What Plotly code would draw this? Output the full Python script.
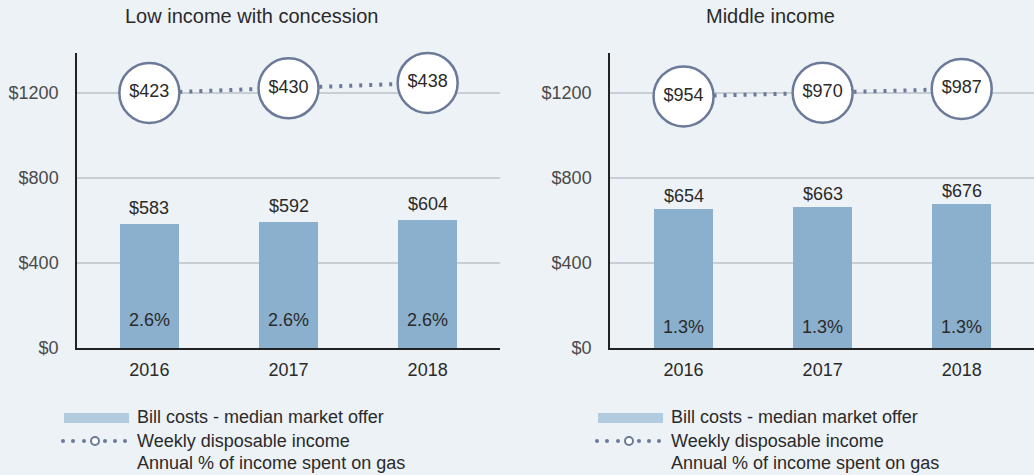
import plotly.graph_objects as go

years = ["2016", "2017", "2018"]
bill_low = [583, 592, 604]
bill_mid = [654, 663, 676]
income_low = [423, 430, 438]
income_mid = [954, 970, 987]
pct_low = ["2.6%", "2.6%", "2.6%"]
pct_mid = ["1.3%", "1.3%", "1.3%"]
titles = ["Low income with concession", "Middle income"]
y_ticks = [0, 400, 800, 1200]
y_tick_labels = ["$0", "$400", "$800", "$1200"]

W, H = 1034, 475
BG = "#EDF2F7"
BAR = "#8AB0CE"
LEG_BAR = "#B3CBDF"
SLATE = "#6B7A98"
TXT = "#2A2A2A"
FONT = "Liberation Sans"
FS = 18


def px(x):
    return x / W


def py(y):
    return 1 - y / H


fig = go.Figure()

panels = [
    dict(bill=bill_low, inc=income_low, pct=pct_low, xa="x", ya="y", ya2="y2",
         inc_range=[40, 483], pct_shift=28, lab_shift=16),
    dict(bill=bill_mid, inc=income_mid, pct=pct_mid, xa="x2", ya="y3", ya2="y4",
         inc_range=[-153, 1145], pct_shift=21, lab_shift=13),
]

for p in panels:
    fig.add_trace(go.Bar(x=years, y=p["bill"], xaxis=p["xa"], yaxis=p["ya"],
                         marker=dict(color=BAR, line=dict(width=0)), width=0.424,
                         showlegend=False, hoverinfo="skip"))
    fig.add_trace(go.Scatter(x=years, y=p["inc"], xaxis=p["xa"], yaxis=p["ya2"],
                             mode="lines+markers+text",
                             text=["$" + str(v) for v in p["inc"]],
                             textposition="middle center",
                             textfont=dict(family=FONT, size=FS, color=TXT),
                             line=dict(color=SLATE, width=4, dash="3px,7px"),
                             marker=dict(size=60, color="white",
                                         line=dict(color=SLATE, width=2.5)),
                             cliponaxis=False,
                             showlegend=False, hoverinfo="skip"))
    dom_ref = p["ya"] + " domain"
    for i, (v, t) in enumerate(zip(p["bill"], p["pct"])):
        # value label above bar
        fig.add_annotation(x=i, y=v, xref=p["xa"], yref=p["ya"], text="$" + str(v),
                           showarrow=False, yanchor="middle", yshift=p["lab_shift"],
                           font=dict(family=FONT, size=FS, color=TXT))
        # percentage label inside bar
        fig.add_annotation(x=i, y=0, xref=p["xa"], yref=dom_ref, text=t,
                           showarrow=False, yanchor="middle", yshift=p["pct_shift"],
                           font=dict(family=FONT, size=FS, color=TXT))

xdom = [[px(77), px(500)], [px(610), 1.0]]
ydom = [py(348), py(53)]

axis_x = dict(type="category", range=[-0.52, 2.52], showgrid=False, showline=True,
              linecolor="#222222", linewidth=1.5, ticks="", ticklabelstandoff=5,
              tickfont=dict(family=FONT, size=FS, color=TXT), zeroline=False,
              automargin=False)
axis_y = dict(range=[0, 1388], tickvals=y_ticks, ticktext=y_tick_labels,
              showgrid=True, gridcolor="#C9CED5", gridwidth=1.5, showline=True,
              linecolor="#222222", linewidth=1.5, ticks="", ticklabelstandoff=13,
              tickfont=dict(family=FONT, size=FS, color="#4A4A4A"), zeroline=False,
              automargin=False)

fig.update_layout(
    width=W, height=H,
    margin=dict(l=0, r=0, t=0, b=0, pad=0),
    paper_bgcolor=BG, plot_bgcolor=BG,
    showlegend=False,
    bargap=0,
    xaxis=dict(axis_x, domain=xdom[0], anchor="y"),
    xaxis2=dict(axis_x, domain=xdom[1], anchor="y3", range=[-0.529, 2.52]),
    yaxis=dict(axis_y, domain=ydom, anchor="x"),
    yaxis2=dict(domain=ydom, anchor="x", overlaying="y", range=panels[0]["inc_range"],
                visible=False, showgrid=False, automargin=False),
    yaxis3=dict(axis_y, domain=ydom, anchor="x2"),
    yaxis4=dict(domain=ydom, anchor="x2", overlaying="y3", range=panels[1]["inc_range"],
                visible=False, showgrid=False, automargin=False),
)

# titles
for cx, t in zip([251, 770], titles):
    fig.add_annotation(x=px(cx), y=py(16), xref="paper", yref="paper", text=t,
                       showarrow=False, xanchor="center", yanchor="middle",
                       font=dict(family=FONT, size=20, color=TXT))

# legends
for x0 in [64, 598]:
    fig.add_shape(type="rect", xref="paper", yref="paper",
                  x0=px(x0), x1=px(x0 + 65), y0=py(423), y1=py(413),
                  fillcolor=LEG_BAR, line=dict(width=0))
    for dx in [-1, 9, 20, 41, 51, 61]:
        cx = x0 + dx
        fig.add_shape(type="circle", xref="paper", yref="paper",
                      xsizemode="pixel", ysizemode="pixel",
                      xanchor=px(cx), yanchor=py(441),
                      x0=-2, x1=2, y0=-2, y1=2,
                      fillcolor=SLATE, line=dict(width=0))
    fig.add_shape(type="circle", xref="paper", yref="paper",
                  xsizemode="pixel", ysizemode="pixel",
                  xanchor=px(x0 + 31), yanchor=py(441),
                  x0=-4, x1=4, y0=-4, y1=4,
                  fillcolor="white", line=dict(color=SLATE, width=2))
    for ty, t in zip([417, 441, 463], ["Bill costs - median market offer",
                                        "Weekly disposable income",
                                        "Annual % of income spent on gas"]):
        fig.add_annotation(x=px(x0 + 71), y=py(ty), xref="paper", yref="paper",
                           text=t, showarrow=False, xanchor="left", yanchor="middle",
                           font=dict(family=FONT, size=FS, color=TXT))

fig.write_html("out.html", config={"displayModeBar": False},
               post_script="document.body.style.margin='0';"
                           "document.body.style.overflow='hidden';")
